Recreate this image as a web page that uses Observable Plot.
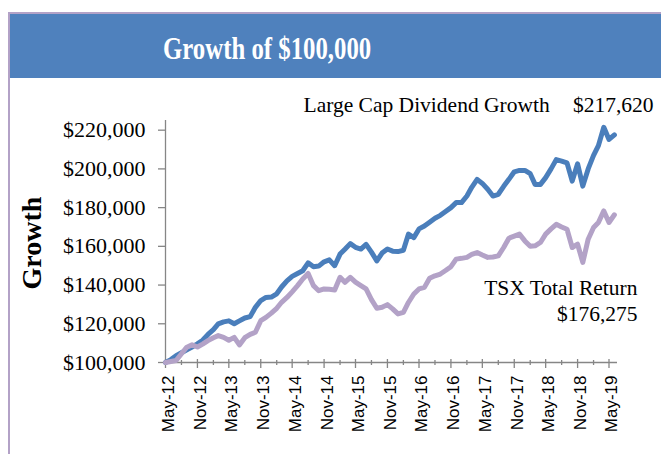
<!DOCTYPE html>
<html><head><meta charset="utf-8">
<script src="https://cdn.jsdelivr.net/npm/d3@7"></script>
<script src="https://cdn.jsdelivr.net/npm/@observablehq/plot@0.6"></script>
<style>
html,body{margin:0;padding:0;background:#fff;}
#wrap{position:relative;width:661px;height:454px;overflow:hidden;}
#header{position:absolute;left:8px;top:12px;width:653px;height:66px;background:#4f81bd;border-top:2px solid #b3a2c7;box-sizing:border-box;}
#border{position:absolute;left:8px;top:12px;width:2px;height:442px;background:#b3a2c7;}
#title{position:absolute;left:163px;top:34px;font-family:"Liberation Serif",serif;font-weight:bold;font-size:31px;line-height:30px;color:#fff;transform:scaleX(0.8);transform-origin:left top;white-space:nowrap;}
#chart{position:absolute;left:0;top:78px;}
</style></head>
<body>
<div id="wrap">
  <div id="header"></div>
  <div id="border"></div>
  <div id="title">Growth of $100,000</div>
  <div id="chart"></div>
</div>
<script>
// Monthly values (thousands of $), May-12 .. Jun-19
const largeCapDividendGrowth = [
 100.0,101.5,103.5,105.0,106.5,108.0,109.6,111.5,114.5,117.0,120.0,121.0,
 121.5,120.0,121.5,123.0,123.7,128.5,132.0,133.6,133.8,135.5,139.0,142.2,
 144.5,146.0,147.4,151.5,149.5,149.8,152.0,153.0,150.0,156.0,158.5,161.4,
 159.5,158.6,161.0,157.0,152.5,156.5,158.6,157.5,157.3,158.0,166.3,164.5,
 169.0,170.5,172.5,174.5,176.0,178.0,180.0,182.6,182.6,186.0,190.5,194.6,
 192.5,189.5,186.0,186.9,191.0,194.6,198.5,199.2,199.2,197.5,192.0,192.0,
 195.5,200.0,204.8,204.0,203.1,193.7,202.6,191.1,200.0,207.0,212.0,221.5,
 215.2,217.6];
const tsxTotalReturn = [
 100.0,100.5,101.0,104.5,107.9,109.1,108.0,109.5,111.3,112.8,113.9,113.0,
 111.5,113.0,109.1,112.8,114.5,115.6,121.6,123.3,125.5,128.0,131.1,133.6,
 136.5,139.7,143.1,146.0,139.7,137.1,138.0,137.8,137.5,144.0,141.4,144.0,
 141.5,139.7,138.0,132.5,128.0,128.5,129.9,127.7,125.1,125.9,131.0,135.4,
 138.0,138.8,143.5,144.8,145.7,147.5,149.5,153.4,153.8,154.3,155.8,156.8,
 155.5,154.3,154.5,155.1,159.4,164.2,165.3,166.3,162.8,160.0,160.3,162.0,
 166.3,169.0,171.4,170.0,168.8,159.4,161.1,151.7,163.7,169.7,172.3,178.3,
 172.3,176.3];
const yTicks = [100,120,140,160,180,200,220];
const yTickLabels = ["$100,000","$120,000","$140,000","$160,000","$180,000","$200,000","$220,000"];
const xTickLabels = ["May-12","Nov-12","May-13","Nov-13","May-14","Nov-14","May-15","Nov-15",
 "May-16","Nov-16","May-17","Nov-17","May-18","Nov-18","May-19"];
const seriesNames = ["Large Cap Dividend Growth","TSX Total Return"];
const finalLabels = ["$217,620","$176,275"];
const axisTitle = "Growth";

const start = new Date(Date.UTC(2012,4,1));
const months = d3.utcMonth.range(start, new Date(Date.UTC(2019,5,2)));
const data = months.map((d,i)=>({date:d, lcdg:largeCapDividendGrowth[i], tsx:tsxTotalReturn[i]}));
const xMajor = months.filter((d,i)=> i%6===0 && i<=84);
const xMinor = months.filter((d,i)=> i%6===3);
const xLabelMap = new Map(xMajor.map((d,i)=>[+d, xTickLabels[i]]));
const yLabelMap = new Map(yTicks.map((d,i)=>[d, yTickLabels[i]]));
const xDomain = [start, new Date(Date.UTC(2019,5,19))];
const gray = "#868686";

const chart = Plot.plot({
  width:661, height:376, marginLeft:165, marginRight:44, marginTop:42, marginBottom:92,
  style:{fontFamily:"'Liberation Serif', serif", fontSize:"21.5px", color:"#000", background:"transparent", overflow:"visible"},
  x:{type:"utc", domain:xDomain, axis:null},
  y:{domain:[100,225], axis:null},
  marks:[
    Plot.ruleX([xDomain[0]], {stroke:gray, strokeWidth:1.3}),
    Plot.ruleY([100], {stroke:gray, strokeWidth:1.3}),
    Plot.axisY(yTicks, {tickSize:7, stroke:gray, strokeWidth:1.3, tickFormat:()=>""}),
    Plot.axisY(yTicks, {tickSize:0, tickPadding:20, color:"#000", fontSize:22, tickFormat:d=>yLabelMap.get(d)}),
    Plot.axisX(xMajor, {tickSize:9, dy:-3, stroke:gray, strokeWidth:1.3, tickFormat:()=>""}),
    Plot.axisX(xMinor, {tickSize:5, dy:-2, stroke:gray, strokeWidth:1.3, tickFormat:()=>""}),
    Plot.axisX(xMajor, {tickSize:0, tickPadding:13, tickRotate:-90, dx:3, color:"#000",
      fontFamily:"'Liberation Sans', sans-serif", fontSize:17, tickFormat:d=>xLabelMap.get(+d)}),
    Plot.line(data, {x:"date", y:"lcdg", stroke:"#4a7ebb", strokeWidth:5, strokeLinejoin:"round", strokeLinecap:"round"}),
    Plot.line(data, {x:"date", y:"tsx", stroke:"#b3a2c7", strokeWidth:5, strokeLinejoin:"round", strokeLinecap:"round"}),
    Plot.text([seriesNames[0]], {frameAnchor:"top-left", dx:138, dy:-9, textAnchor:"start", lineAnchor:"bottom", fill:"#000"}),
    Plot.text([finalLabels[0]], {frameAnchor:"top-right", dx:36, dy:-9, textAnchor:"end", lineAnchor:"bottom", fill:"#000"}),
    Plot.text([seriesNames[1]], {frameAnchor:"top-right", dx:20, dy:174, textAnchor:"end", lineAnchor:"bottom", fill:"#000"}),
    Plot.text([finalLabels[1]], {frameAnchor:"top-right", dx:20, dy:200, textAnchor:"end", lineAnchor:"bottom", fill:"#000"}),
    Plot.text([axisTitle], {frameAnchor:"left", dx:-133, dy:48, rotate:-90, fontWeight:"bold", fontSize:28, fill:"#000"})
  ]
});
document.getElementById("chart").appendChild(chart);
</script>
</body></html>
